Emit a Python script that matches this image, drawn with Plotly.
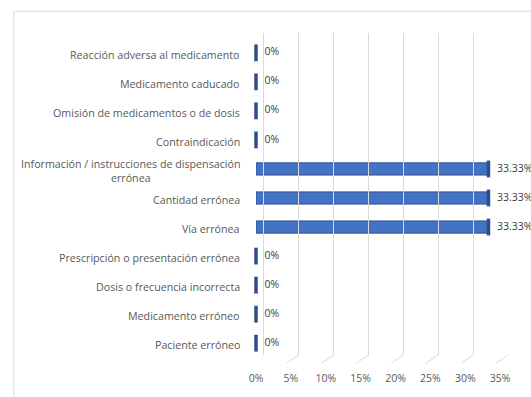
import plotly.graph_objects as go

categories = [
    "Reacción adversa al medicamento",
    "Medicamento caducado",
    "Omisión de medicamentos o de dosis",
    "Contraindicación",
    "Información / instrucciones de dispensación<br>errónea",
    "Cantidad errónea",
    "Vía errónea",
    "Prescripción o presentación errónea",
    "Dosis o frecuencia incorrecta",
    "Medicamento erróneo",
    "Paciente erróneo",
]
values = [0, 0, 0, 0, 33.33, 33.33, 33.33, 0, 0, 0, 0]
tick_values = [0, 5, 10, 15, 20, 25, 30, 35]
tick_labels = ["0%", "5%", "10%", "15%", "20%", "25%", "30%", "35%"]
value_labels = [f"{v:g}%" for v in values]

FONT = "Open Sans"
GRID = "#D9D9D9"

fig = go.Figure()

# back-plane gridlines axis (dummy invisible trace)
fig.add_trace(go.Scatter(x=tick_values, y=[0.5] * len(tick_values), xaxis="x2", yaxis="y2",
                         mode="markers", marker=dict(opacity=0), hoverinfo="skip", showlegend=False))

fig.add_trace(go.Bar(
    x=values, y=categories, orientation="h", width=0.42,
    marker=dict(color="#4472C4", line=dict(color="#2F528F", width=1)),
    showlegend=False, hoverinfo="x+y",
))
# end faces of the bars + data labels
fig.add_trace(go.Scatter(
    x=values, y=categories, mode="markers+text",
    marker=dict(symbol="line-ns", size=12, line=dict(color="#2E4D8A", width=3.5)),
    text=value_labels, textposition="middle right",
    textfont=dict(family=FONT, size=10.5, color="#404040"),
    cliponaxis=False, showlegend=False, hoverinfo="skip",
))

annotations = []
for c in categories:
    annotations.append(dict(
        x=0, xref="x", y=c, yref="y", xanchor="right", yanchor="middle",
        xshift=-14, yshift=-2, text=c, showarrow=False, align="center",
        font=dict(family=FONT, size=10.7, color="#595959"),
    ))

shapes = [dict(type="rect", xref="paper", yref="paper", x0=-0.961, x1=1.3, y0=-0.3, y1=1.0659,
               line=dict(color=GRID, width=1), fillcolor="rgba(0,0,0,0)", layer="below")]
for t in tick_values:
    shapes.append(dict(type="line", xref="x2", yref="paper", xsizemode="pixel", xanchor=t,
                       x0=0, x1=-12, ysizemode="pixel", yanchor=0, y0=8, y1=0,
                       line=dict(color=GRID, width=1), layer="below"))

fig.update_layout(
    width=531, height=397,
    margin=dict(l=256, r=19, t=33, b=30),
    paper_bgcolor="white", plot_bgcolor="rgba(0,0,0,0)",
    bargap=0.5,
    xaxis=dict(domain=[0, 0.96875], range=[0, 35], anchor="free", position=0,
               tickvals=tick_values, ticktext=tick_labels, showgrid=False, zeroline=False,
               ticks="outside", ticklen=5, tickcolor="rgba(0,0,0,0)",
               tickfont=dict(family=FONT, size=10.5, color="#595959")),
    yaxis=dict(domain=[0.016, 0.984], type="category", categoryorder="array",
               categoryarray=categories, range=[10.5, -0.5],
               showticklabels=False, showgrid=False, zeroline=False, showline=False),
    xaxis2=dict(domain=[0.03125, 1], range=[0, 35], anchor="y2", tickvals=tick_values,
                showgrid=True, gridcolor=GRID, gridwidth=1, zeroline=True,
                zerolinecolor=GRID, zerolinewidth=1, showticklabels=False, ticks=""),
    yaxis2=dict(domain=[0.024, 1], range=[0, 1], anchor="x2", visible=False),
    annotations=annotations,
    shapes=shapes,
)

fig.write_html("out.html")
